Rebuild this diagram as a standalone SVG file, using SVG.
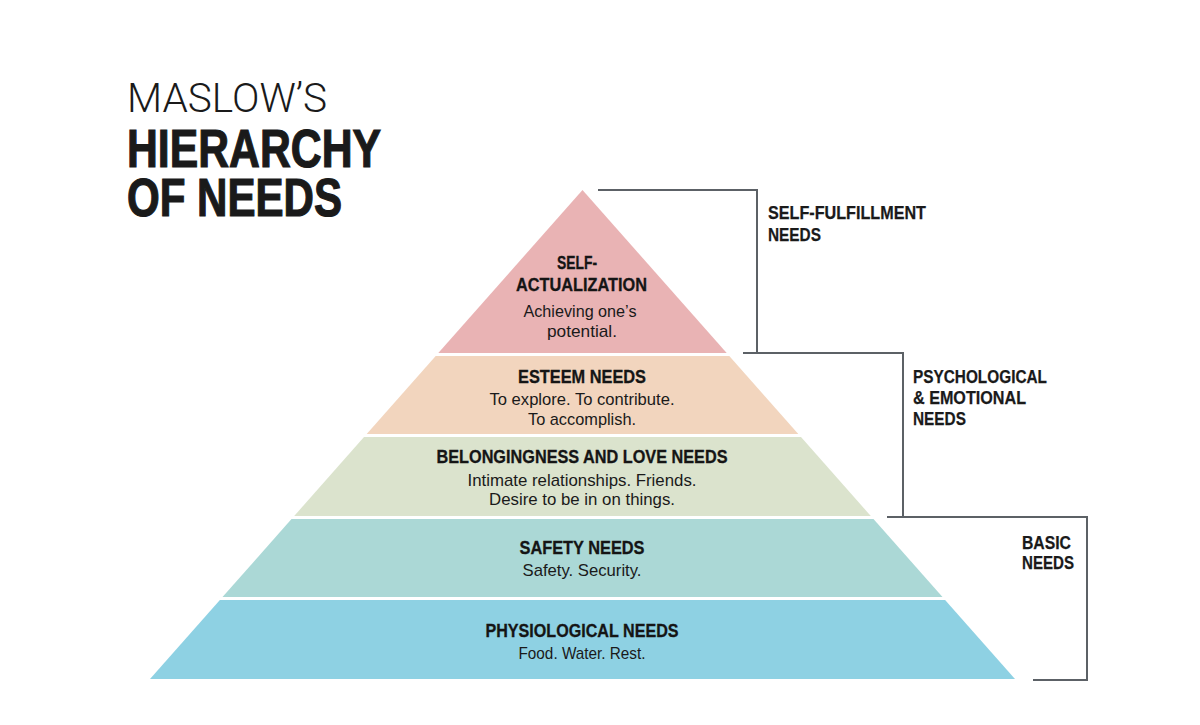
<svg xmlns="http://www.w3.org/2000/svg" width="1200" height="725" viewBox="0 0 1200 725">
<style>
.h{font-family:"Liberation Sans",Arial,sans-serif;font-weight:bold;font-size:18px;fill:#151515;stroke:#151515;stroke-width:0.3;text-anchor:middle}
.b{font-family:"Liberation Sans",Arial,sans-serif;font-size:17px;fill:#1a1a1a;text-anchor:middle}
.g{font-family:"Liberation Sans",Arial,sans-serif;font-weight:bold;font-size:18.5px;fill:#1a1a1a;stroke:#1a1a1a;stroke-width:0.25}
.t{font-family:"Liberation Sans",Arial,sans-serif;font-weight:bold;font-size:53px;fill:#1a1a1a;stroke:#1a1a1a;stroke-width:1.2}
.tl{font-family:Roboto,Lato,"Liberation Sans",sans-serif;font-weight:300;font-size:40px;fill:#1a1a1a}
.br{fill:none;stroke:#5c6166;stroke-width:2}
</style>
<rect width="1200" height="725" fill="#ffffff"/>
<g id="title">
<text class="tl" x="127" y="112" textLength="200" lengthAdjust="spacingAndGlyphs">MASLOW’S</text>
<text class="t" x="127" y="167" textLength="254" lengthAdjust="spacingAndGlyphs">HIERARCHY</text>
<text class="t" x="127" y="216" textLength="215" lengthAdjust="spacingAndGlyphs">OF NEEDS</text>
</g>
<g id="self-actualization">
<polygon points="582.5,190 726.7,353 438.3,353" fill="#E9B3B4"/>
<text class="h" x="577" y="269" textLength="40" lengthAdjust="spacingAndGlyphs">SELF-</text>
<text class="h" x="581.5" y="291" textLength="131" lengthAdjust="spacingAndGlyphs">ACTUALIZATION</text>
<text class="b" x="580" y="317" textLength="113" lengthAdjust="spacingAndGlyphs">Achieving one’s</text>
<text class="b" x="582" y="337" textLength="70" lengthAdjust="spacingAndGlyphs">potential.</text>
</g>
<g id="esteem">
<polygon points="435.7,356 729.3,356 798.3,434 366.7,434" fill="#F2D5BE"/>
<text class="h" x="582" y="383" textLength="128" lengthAdjust="spacingAndGlyphs">ESTEEM NEEDS</text>
<text class="b" x="582" y="405" textLength="185" lengthAdjust="spacingAndGlyphs">To explore. To contribute.</text>
<text class="b" x="582" y="425" textLength="108" lengthAdjust="spacingAndGlyphs">To accomplish.</text>
</g>
<g id="belonging">
<polygon points="364,437 801,437 870.8,516 294.2,516" fill="#DBE3CD"/>
<text class="h" x="582" y="463" textLength="291" lengthAdjust="spacingAndGlyphs">BELONGINGNESS AND LOVE NEEDS</text>
<text class="b" x="582" y="486" textLength="229" lengthAdjust="spacingAndGlyphs">Intimate relationships. Friends.</text>
<text class="b" x="582" y="505" textLength="186" lengthAdjust="spacingAndGlyphs">Desire to be in on things.</text>
</g>
<g id="safety">
<polygon points="291.5,519 873.5,519 942.5,597 222.5,597" fill="#ABD8D6"/>
<text class="h" x="582" y="554" textLength="125" lengthAdjust="spacingAndGlyphs">SAFETY NEEDS</text>
<text class="b" x="582" y="576" textLength="119" lengthAdjust="spacingAndGlyphs">Safety. Security.</text>
</g>
<g id="physiological">
<polygon points="219.9,600 945.1,600 1015,679 150,679" fill="#8ED1E3"/>
<text class="h" x="582" y="637" textLength="193" lengthAdjust="spacingAndGlyphs">PHYSIOLOGICAL NEEDS</text>
<text class="b" x="582" y="659" textLength="127" lengthAdjust="spacingAndGlyphs">Food. Water. Rest.</text>
</g>
<g id="connectors">
<polyline class="br" points="598,190 757,190 757,353"/>
<polyline class="br" points="743,353 903,353 903,517"/>
<polyline class="br" points="887,517 1087,517 1087,680 1033,680"/>
</g>
<g id="label-self-fulfillment">
<text class="g" x="768" y="219" textLength="158" lengthAdjust="spacingAndGlyphs">SELF-FULFILLMENT</text>
<text class="g" x="768" y="241" textLength="53" lengthAdjust="spacingAndGlyphs">NEEDS</text>
</g>
<g id="label-psychological">
<text class="g" x="913" y="383" textLength="134" lengthAdjust="spacingAndGlyphs">PSYCHOLOGICAL</text>
<text class="g" x="913" y="404" textLength="113" lengthAdjust="spacingAndGlyphs">&amp; EMOTIONAL</text>
<text class="g" x="913" y="425" textLength="53" lengthAdjust="spacingAndGlyphs">NEEDS</text>
</g>
<g id="label-basic">
<text class="g" x="1022" y="549" textLength="49" lengthAdjust="spacingAndGlyphs">BASIC</text>
<text class="g" x="1022" y="569" textLength="52" lengthAdjust="spacingAndGlyphs">NEEDS</text>
</g>
</svg>
